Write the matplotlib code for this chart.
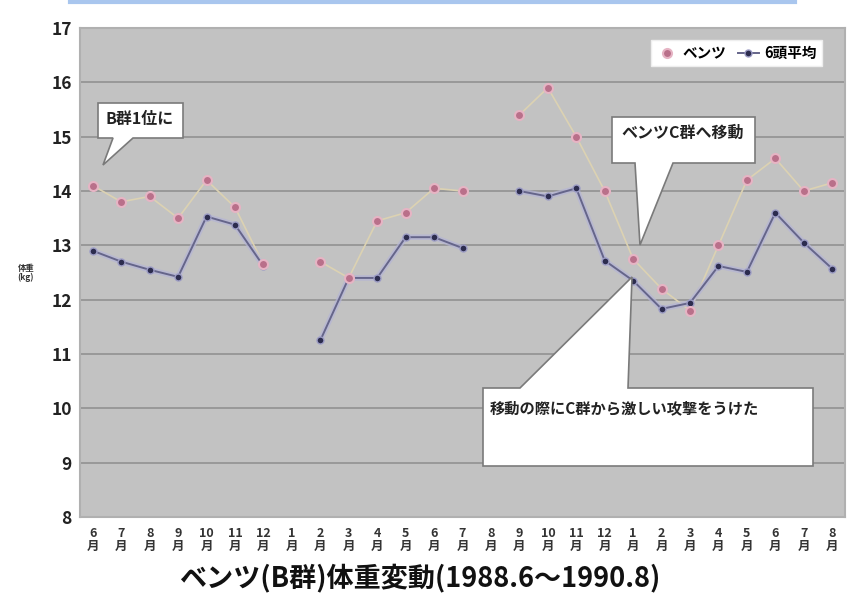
import numpy as np
import matplotlib
matplotlib.use("Agg")
import matplotlib.pyplot as plt
from matplotlib.patches import Polygon
from matplotlib.lines import Line2D

plt.rcParams['font.family'] = ['Noto Sans CJK JP', 'DejaVu Sans']

months = ['6', '7', '8', '9', '10', '11', '12', '1', '2', '3', '4', '5', '6', '7',
          '8', '9', '10', '11', '12', '1', '2', '3', '4', '5', '6', '7', '8']
nan = np.nan
bentsu = [14.1, 13.8, 13.9, 13.5, 14.2, 13.7, 12.65, nan, 12.7, 12.4, 13.45, 13.6, 14.05, 14.0,
          nan, 15.4, 15.9, 15.0, 14.0, 12.75, 12.2, 11.8, 13.0, 14.2, 14.6, 14.0, 14.15]
avg6 = [12.9, 12.7, 12.55, 12.42, 13.53, 13.38, 12.62, nan, 11.25, 12.4, 12.4, 13.15, 13.15, 12.95,
        nan, 14.0, 13.9, 14.05, 12.72, 12.35, 11.83, 11.94, 12.62, 12.51, 13.6, 13.05, 12.57]
series_names = ['ベンツ', '6頭平均']
title = 'ベンツ(B群)体重変動(1988.6〜1990.8)'
ann1 = 'B群1位に'
ann2 = 'ベンツC群へ移動'
ann3 = '移動の際にC群から激しい攻撃をうけた'

W, H = 851, 595
fig = plt.figure(figsize=(W / 100, H / 100), dpi=100)
fig.patch.set_facecolor('white')

# axes in pixel layout
L, R, T, B = 80, 845, 28, 517
ax = fig.add_axes([L / W, 1 - B / H, (R - L) / W, (B - T) / H])
ax.set_facecolor('#c2c2c2')

x = np.arange(len(months))
ax.set_xlim(-0.45, len(months) - 1 + 0.45)
ax.set_ylim(8, 17)
ax.set_yticks(range(8, 18))
ax.yaxis.grid(True, color='#959595', lw=1.3)
ax.set_axisbelow(True)
for s in ax.spines.values():
    s.set_color('#b0b0b0')
    s.set_linewidth(1.5)

# pale connecting line + markers for Bentsu
ax.plot(x, bentsu, color='#dcd2b2', lw=1.2, zorder=2)
l1, = ax.plot(x, bentsu, ls='none', marker='o', ms=6.5, mfc='#b9708a',
              mec='#e6b4c4', mew=1.5, zorder=4, label=series_names[0])
# average line with lavender halo
ax.plot(x, avg6, color='#b4b4d6', lw=4, alpha=0.7, zorder=2)
l2, = ax.plot(x, avg6, color='#65658a', lw=1.4, marker='o', ms=5, mfc='#2c2c4e',
              mec='#9c9cc4', mew=1, zorder=3, label=series_names[1])

ax.set_xticks(x)
ax.set_xticklabels([m + '\n月' for m in months], fontsize=9, linespacing=1.05,
                   color='#333333', fontweight='bold')
ax.tick_params(axis='x', length=0, pad=7)
ax.tick_params(axis='y', length=0, pad=6, labelsize=12.5, labelcolor='#222222')
for t in ax.get_yticklabels():
    t.set_fontweight('bold')

leg = ax.legend(handles=[l1, l2], loc='upper right', bbox_to_anchor=(0.97, 0.975),
                borderaxespad=0, ncol=2, fontsize=10.5, frameon=True, fancybox=False,
                edgecolor='#eeeeee', framealpha=1, handlelength=1.4, columnspacing=0.8,
                handletextpad=0.4, borderpad=0.35)
for t in leg.get_texts():
    t.set_fontweight('bold')


def fig_xy(px, py):
    return (px / W, 1 - py / H)


def callout(pts, text, tx, ty, fs, ha='center'):
    poly = Polygon([fig_xy(*p) for p in pts], closed=True, facecolor='white',
                   edgecolor='#7a7a7a', lw=1.2, transform=fig.transFigure, zorder=10)
    fig.patches.append(poly)
    fig.text(*fig_xy(tx, ty), text, fontsize=fs, fontweight='bold', ha=ha, va='center',
             color='#222222', zorder=11)


callout([(98, 103), (183, 103), (183, 138), (133, 138), (103, 165), (113, 138), (98, 138)],
        ann1, 140, 119, 11.5)
callout([(612, 117), (755, 117), (755, 163), (673, 163), (640, 245), (635, 163), (612, 163)],
        ann2, 683, 133, 11.5)
callout([(483, 388), (520, 388), (632, 277), (628, 388), (813, 388), (813, 466), (483, 466)],
        ann3, 490, 408, 11, ha='left')

# y label and title
fig.text(*fig_xy(26, 273), '体重\n(kg)', fontsize=6, fontweight='bold', ha='center',
         va='center', linespacing=1.0, color='#333333')
fig.text(*fig_xy(420, 578), title, fontsize=19.5, fontweight='bold', ha='center',
         va='center', color='#111111')

# light blue line at top
fig.add_artist(Line2D([70 / W, 795 / W], [1 - 2 / H, 1 - 2 / H], color='#a9c6ee', lw=3,
                      transform=fig.transFigure))

fig.savefig('out.png', dpi=100)
